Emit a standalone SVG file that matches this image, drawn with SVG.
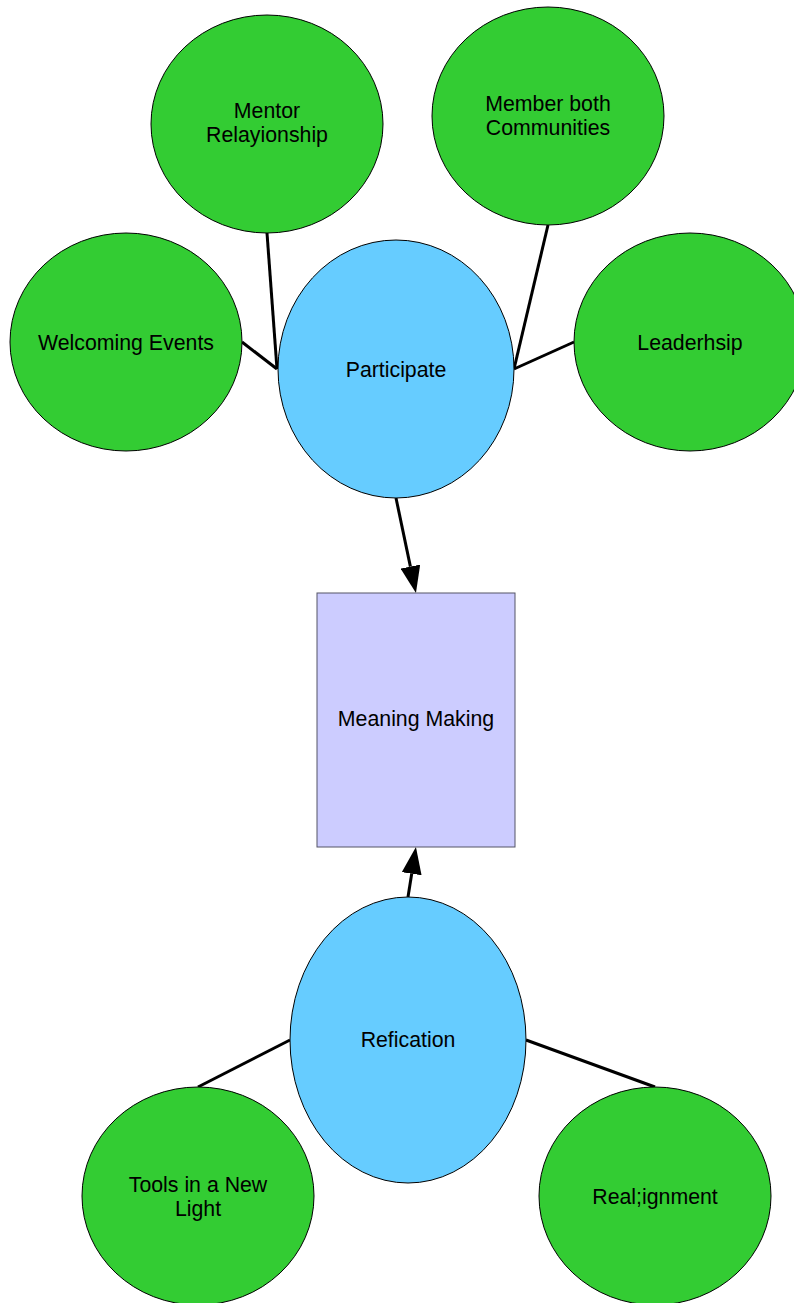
<svg xmlns="http://www.w3.org/2000/svg" width="794" height="1303" viewBox="0 0 794 1303">
<style>
.g{fill:#33CC33;stroke:#000;stroke-width:1}
.b{fill:#66CCFF;stroke:#000;stroke-width:1}
.r{fill:#CCCCFF;stroke:#555566;stroke-width:1}
.t{font-family:"Liberation Sans",Arial,sans-serif;font-size:21.3px;fill:#000;text-anchor:middle}
.c{stroke:#000;stroke-width:3;fill:none}
</style>
<defs>
<marker id="ah" viewBox="0 0 27 20" markerWidth="27" markerHeight="20" markerUnits="userSpaceOnUse" refX="0" refY="10" orient="auto">
<path d="M0,0 L27,10 L0,20 z" fill="#000"/>
</marker>
</defs>
<rect width="794" height="1303" fill="#fff"/>
<g id="connectors">
<line class="c" x1="267" y1="233" x2="277" y2="369"/>
<line class="c" x1="242" y1="342" x2="277" y2="369"/>
<line class="c" x1="548" y1="225" x2="514" y2="369"/>
<line class="c" x1="574" y1="342" x2="514" y2="369"/>
<line class="c" x1="396" y1="498" x2="410.4" y2="566.6" marker-end="url(#ah)"/>
<line class="c" x1="408" y1="897" x2="411.7" y2="873.7" marker-end="url(#ah)"/>
<line class="c" x1="198" y1="1087" x2="290" y2="1040"/>
<line class="c" x1="655" y1="1087" x2="526" y2="1040"/>
</g>
<g id="mentor">
<ellipse class="g" cx="267" cy="124" rx="116" ry="109"/>
<text class="t" x="267" y="117.5">Mentor</text>
<text class="t" x="267" y="141.5">Relayionship</text>
</g>
<g id="member">
<ellipse class="g" cx="548" cy="116" rx="116" ry="109"/>
<text class="t" x="548" y="110.5">Member both</text>
<text class="t" x="548" y="134.5">Communities</text>
</g>
<g id="welcoming">
<ellipse class="g" cx="126" cy="342" rx="116" ry="109"/>
<text class="t" x="126" y="349.5">Welcoming Events</text>
</g>
<g id="leadership">
<ellipse class="g" cx="690" cy="342" rx="116" ry="109"/>
<text class="t" x="690" y="349.5">Leaderhsip</text>
</g>
<g id="participate">
<ellipse class="b" cx="396" cy="369" rx="118" ry="129"/>
<text class="t" x="396" y="376.5">Participate</text>
</g>
<g id="meaning">
<rect class="r" x="317" y="593" width="198" height="254"/>
<text class="t" x="416" y="726">Meaning Making</text>
</g>
<g id="refication">
<ellipse class="b" cx="408" cy="1040" rx="118" ry="143"/>
<text class="t" x="408" y="1046.5">Refication</text>
</g>
<g id="tools">
<ellipse class="g" cx="198" cy="1196" rx="116" ry="109"/>
<text class="t" x="198" y="1191.5">Tools in a New</text>
<text class="t" x="198" y="1215.5">Light</text>
</g>
<g id="realignment">
<ellipse class="g" cx="655" cy="1196" rx="116" ry="109"/>
<text class="t" x="655" y="1203.5">Real;ignment</text>
</g>
</svg>
